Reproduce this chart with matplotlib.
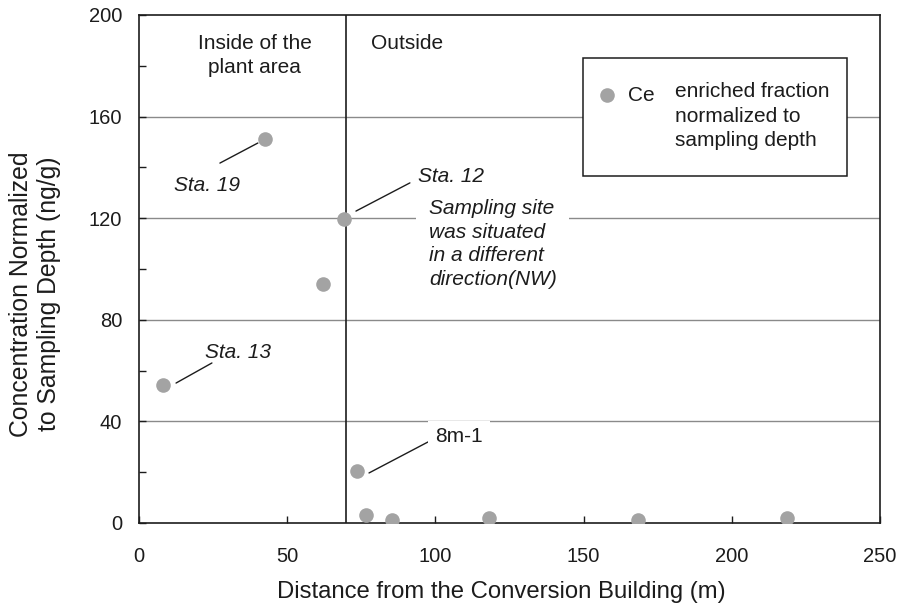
import numpy as np
import matplotlib
matplotlib.use("Agg")
import matplotlib.pyplot as plt
from matplotlib.patches import Rectangle

plt.rcParams['font.family'] = ['Liberation Sans', 'DejaVu Sans']

# distance (m) and Ce concentration normalized to sampling depth (ng/g)
distance = [8, 42.5, 62, 69, 73.5, 76.5, 85.5, 118, 168.5, 218.5]
conc = [54.5, 151, 94, 119.5, 20.5, 3, 1.2, 2, 1.2, 2]
boundary = 70

x_ticks = [0, 50, 100, 150, 200, 250]
y_ticks = [0, 40, 80, 120, 160, 200]

pt_color = '#a3a3a3'
ink = '#1c1c1c'

fig = plt.figure(figsize=(8.99, 6.07), dpi=100)
ax = fig.add_axes([139/899, 1-523/607, 741/899, 508/607])

for y in y_ticks[1:-1]:
    ax.axhline(y, color='#8a8a8a', lw=1.0, zorder=0)
ax.axvline(boundary, color=ink, lw=1.2, zorder=1)

ax.plot(distance, conc, 'o', color=pt_color, ms=10.5, mec='none', zorder=5)

ax.set_xlim(0, 250)
ax.set_ylim(0, 200)
ax.set_xticks(x_ticks)
ax.set_yticks(y_ticks)
ax.set_yticks([20, 60, 100, 140, 180], minor=True)
ax.tick_params(axis='both', which='both', direction='in', length=5, width=1,
               labelsize=14.5, colors=ink)
ax.tick_params(axis='x', pad=17)
ax.tick_params(axis='y', pad=12)
for s in ax.spines.values():
    s.set_color(ink)
    s.set_linewidth(1.2)

fig.text(501/899, 1-592/607, 'Distance from the Conversion Building (m)', fontsize=17.2,
         ha='center', va='center', color=ink)
fig.text(35/899, 1-294/607, 'Concentration Normalized\nto Sampling Depth (ng/g)', fontsize=17.8,
         ha='center', va='center', rotation=90, multialignment='center',
         linespacing=1.25, color=ink)

ax.text(39, 192.5, 'Inside of the\nplant area', ha='center', va='top', fontsize=15,
        linespacing=1.3, color=ink)
ax.text(78.3, 192.5, 'Outside', ha='left', va='top', fontsize=15, color=ink)

# leader lines
def leader(p0, p1):
    ax.annotate('', xy=p1, xytext=p0,
                arrowprops=dict(arrowstyle='-', color=ink, lw=1, shrinkA=0, shrinkB=0))

leader((27.3, 141.7), (40.1, 149.6))
leader((73.2, 122.8), (91.4, 133.9))
leader((12.5, 55.1), (24.6, 63.0))
leader((77.6, 19.7), (97.5, 31.9))

ax.text(34.1, 132.7, 'Sta. 19', fontsize=15, style='italic', ha='right', va='center', color=ink)
ax.text(94.1, 136.6, 'Sta. 12', fontsize=15, style='italic', ha='left', va='center', color=ink)
ax.text(97.8, 109.8, 'Sampling site\nwas situated\nin a different\ndirection(NW)',
        fontsize=15, style='italic', ha='left', va='center', color=ink,
        linespacing=1.31, bbox=dict(facecolor='white', edgecolor='none', pad=9))
ax.text(22.3, 67.3, 'Sta. 13', fontsize=15, style='italic', ha='left', va='center', color=ink)
ax.text(99.9, 33.9, '8m-1', fontsize=15, ha='left', va='center', color=ink,
        bbox=dict(facecolor='white', edgecolor='none', pad=5))

# legend box
ax.add_patch(Rectangle((0.599, 0.683), 0.356, 0.232, transform=ax.transAxes,
                       facecolor='white', edgecolor=ink, lw=1.1, zorder=6))
ax.plot([0.632], [0.843], 'o', color=pt_color, ms=10.5, mec='none', transform=ax.transAxes,
        zorder=7, clip_on=False)
ax.text(0.660, 0.841, 'Ce', transform=ax.transAxes, fontsize=15, ha='left', va='center',
        color=ink, zorder=7)
ax.text(0.723, 0.801, 'enriched fraction\nnormalized to\nsampling depth',
        transform=ax.transAxes, fontsize=15, ha='left', va='center', linespacing=1.35,
        color=ink, zorder=7)

fig.savefig('out.png', dpi=100)
